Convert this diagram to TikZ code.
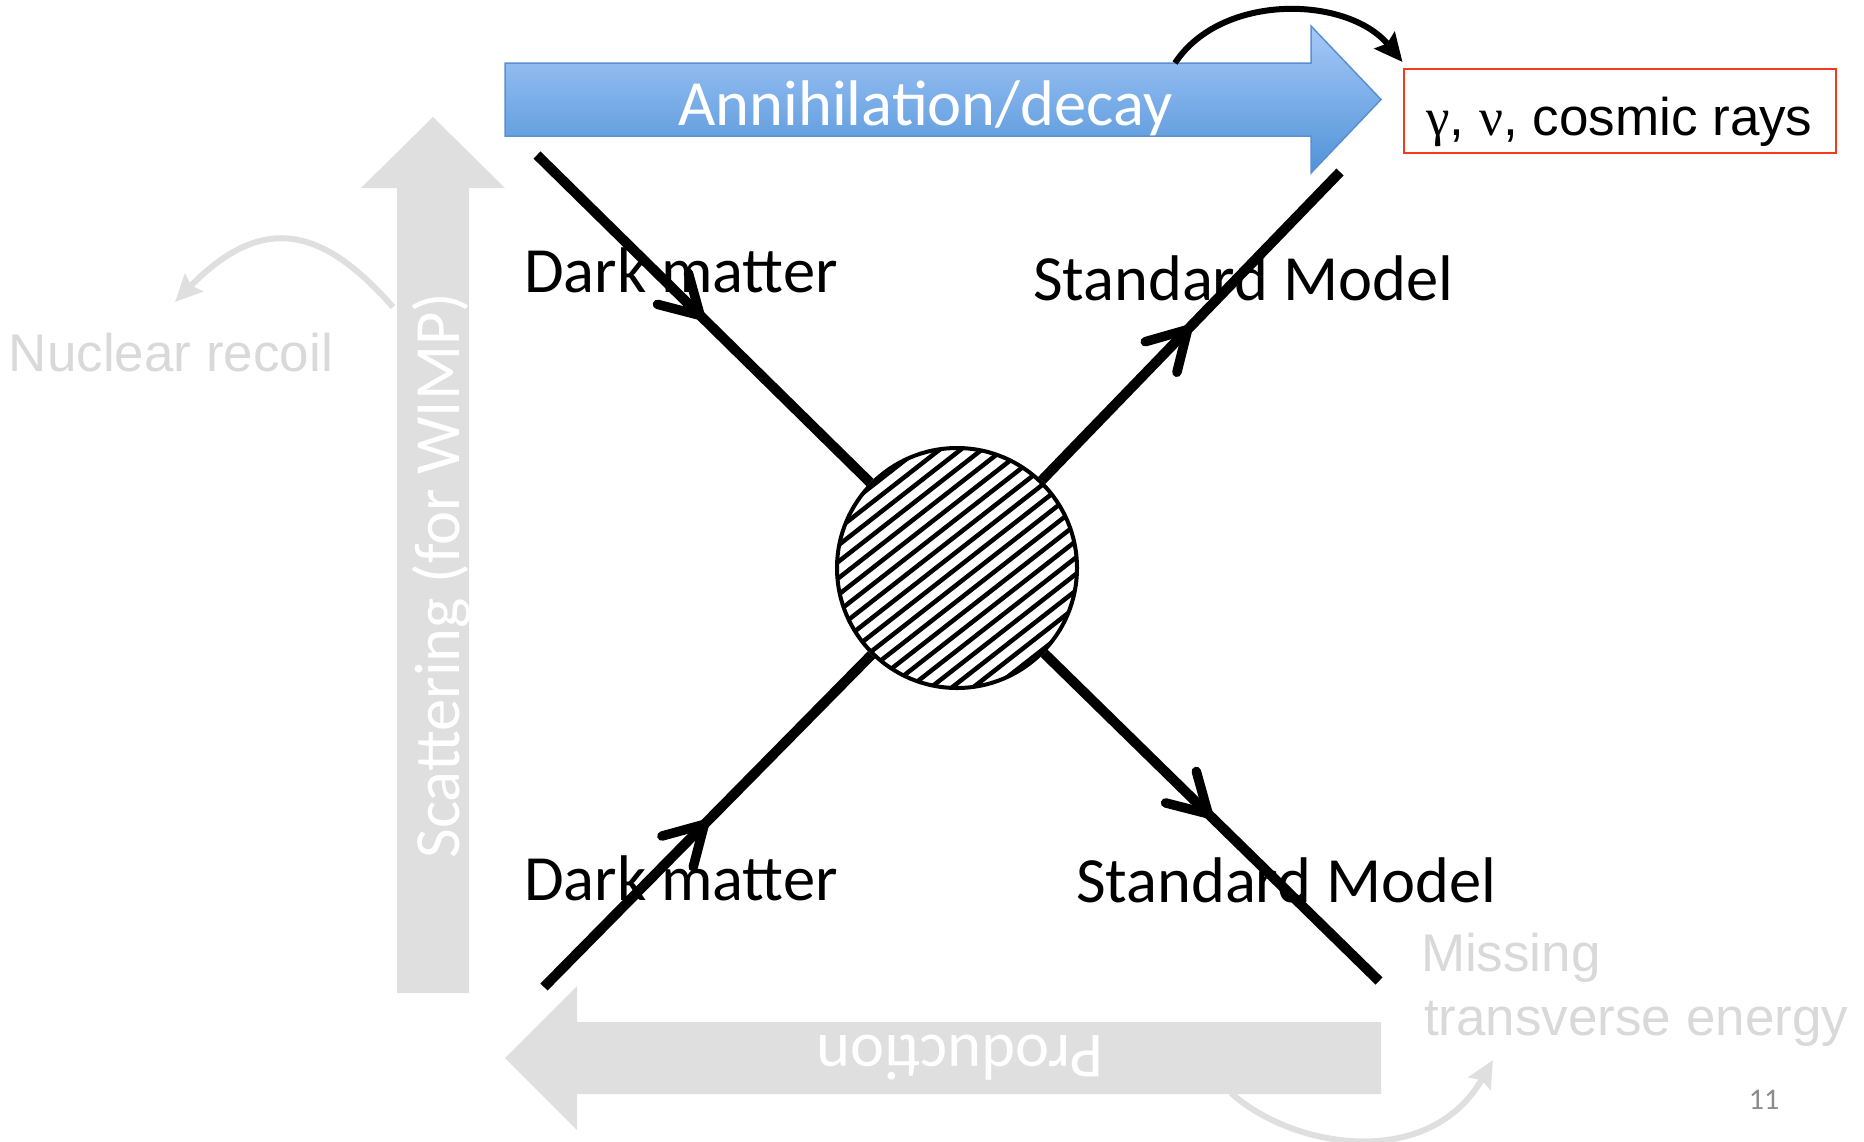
\documentclass[tikz,border=0pt]{standalone}
\usepackage{fontspec}
\setmainfont{Carlito}
\newfontfamily\arialf{Liberation Sans}
\newfontfamily\timesf{Liberation Serif}
\usetikzlibrary{arrows.meta,decorations.markings,calc}

\definecolor{blueTop}{HTML}{A6C9F8}
\definecolor{blueBot}{HTML}{5093D8}
\definecolor{blueEdge}{HTML}{5B8FD0}
\definecolor{fadeGrey}{HTML}{DFDFDF}
\definecolor{labelGrey}{HTML}{D9D9D9}
\definecolor{boxRed}{HTML}{F53A1E}
\definecolor{pageGrey}{HTML}{8C8C8C}

\newcommand\calsz{\fontsize{64.5}{77}\selectfont}
\newcommand\arsz{\arialf\fontsize{53}{64}\selectfont}

\tikzset{
  txt/.style={inner sep=0pt, outer sep=0pt, font=\calsz},
  faded/.style={inner sep=0pt, outer sep=0pt, font=\arsz, text=labelGrey},
  bigarrow/.style={fill=fadeGrey, draw=none},
  prop/.style={line width=10pt, black},
  fermion/.style={postaction={decorate}, decoration={markings,
      mark=at position 0.5 with {\arrow{Straight Barb[angle=60:44pt, round, line width=9.5pt]}}}},
  faintcurve/.style={draw=fadeGrey, line width=6pt, -{Stealth[length=27pt, width=25pt, inset=4pt]}},
  hatch/.style={line width=4.5pt, black},
}

\begin{document}
\begin{tikzpicture}[x=1pt, y=-1pt]
\useasboundingbox (0,0) rectangle (1864,1141);

% process arrows
\shade[top color=blueTop, bottom color=blueBot, draw=blueEdge, line width=1.5pt]
  (505,63) -- (1311,63) -- (1311,26) -- (1381,99.5) -- (1311,173) -- (1311,136) -- (505,136) -- cycle;
\node[txt, text=white, anchor=base] (ann) at (925.5,125) {Annihilation/decay};

\fill[bigarrow] (397,993) -- (397,188) -- (361,188) -- (433,117) -- (505,188) -- (469,188) -- (469,993) -- cycle;
\node[txt, text=white, rotate=90, anchor=base] (scat) at (459,575.5) {Scattering (for WIMP)};

\fill[bigarrow] (1381,1022) -- (577,1022) -- (577,986) -- (505,1058) -- (577,1130) -- (577,1094) -- (1381,1094) -- cycle;
\node[txt, text=white, rotate=180, anchor=base] (prod) at (960,1035) {Production};

% hatched vertex
\begin{scope}
  \clip (957,568) circle (120);
  \foreach \k in {-10,...,10}
    \draw[hatch, rotate around={38:(957,568)}] (807,568+\k*13) -- (1107,568+\k*13);
\end{scope}
\node[circle, draw, line width=4pt, minimum size=240pt, inner sep=0pt] (c) at (957,568) {};

% external legs
\coordinate (dmA) at (537,155);
\coordinate (smA) at (1340,172);
\coordinate (dmB) at (544,987);
\coordinate (smB) at (1379,981);
\draw[prop, fermion] (dmA) -- (c);
\draw[prop, fermion] (c) -- (smA);
\draw[prop, fermion] (dmB) -- (c);
\draw[prop, fermion] (c) -- (smB);

\node[txt, anchor=base west] (dmAl) at (524,292) {Dark matter};
\node[txt, anchor=base west] (smAl) at (1033,300) {Standard Model};
\node[txt, anchor=base west] (dmBl) at (524,900) {Dark matter};
\node[txt, anchor=base west] (smBl) at (1076,902) {Standard Model};

% indirect detection products
\node[draw=boxRed, line width=2pt, inner sep=0pt, text height=66pt, text depth=18pt,
      minimum width=432pt, font=\arsz] (box) at (1619.5,111)
  {{\timesf γ}, {\timesf ν}, cosmic rays};
\coordinate (annOut) at (1175,63);
\draw[line width=6pt, -{Stealth[length=28pt, width=26pt, inset=4pt]}]
  (annOut) .. controls (1222,-8) and (1348,-4) .. ($(box.north west)+(0,-6)$);

% faded channels
\coordinate (recS) at (393,307);
\coordinate (recE) at (175,302);
\draw[faintcurve] (recS) .. controls (325,230) and (265,210) .. (recE);
\node[faded, anchor=base west] (rec) at (9,371) {Nuclear recoil};

\coordinate (metS) at (1231,1093);
\coordinate (metE) at (1493,1060);
\draw[faintcurve] (metS) .. controls (1295,1150) and (1430,1170) .. (metE);
\node[faded, anchor=base west] (met1) at (1421,971) {Missing};
\node[faded, anchor=base west] (met2) at (1424,1035) {transverse energy};

\node[inner sep=0pt, text=pageGrey, font=\fontsize{30}{36}\selectfont] (pg) at (1764,1100) {11};
\end{tikzpicture}
\end{document}
